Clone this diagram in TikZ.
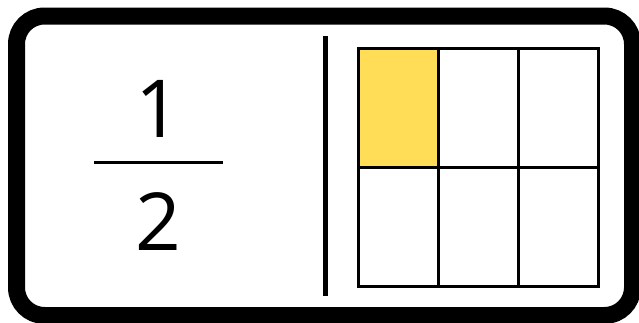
\documentclass[tikz,border=0pt]{standalone}
\usepackage{fontspec}
\setmainfont{Open Sans}
\definecolor{cellyellow}{RGB}{255,221,87}
\tikzset{
  frame/.style={line width=17pt, rounded corners=28pt},
  cell/.style={draw=black, line width=3pt},
  digit/.style={font=\fontsize{80}{80}\selectfont, inner sep=0pt, anchor=base},
}
\begin{document}
\begin{tikzpicture}[x=1pt,y=-1pt]
\useasboundingbox (0,0) rectangle (639,322);
\draw[frame] (16.5,16) rectangle (632.5,315.5);
% fraction
\node[digit] (num) at (158.5,137) {1};
\node[digit] (den) at (158.5,250) {2};
\draw[line width=3pt] (94,162) -- (223,162);
% divider
\draw[line width=5.5pt] (325.5,36) -- (325.5,296);
% grid
\fill[cellyellow] (358.5,48.5) rectangle (438.5,167.5);
\foreach \c in {0,1,2} {
  \foreach \r in {0,1} {
    \draw[cell] ({358.5+80*\c},{48.5+119*\r}) rectangle ++(80,119);
  }
}
\end{tikzpicture}
\end{document}
